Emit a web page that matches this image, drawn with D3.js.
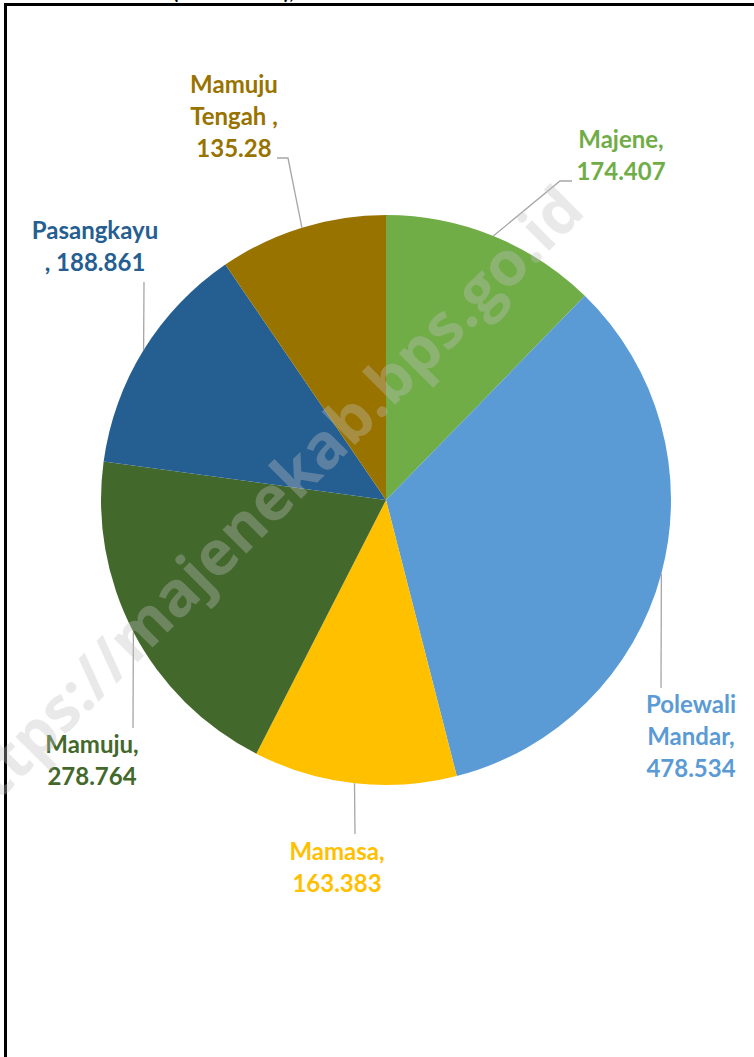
<!DOCTYPE html>
<html>
<head>
<meta charset="utf-8">
<script src="https://cdn.jsdelivr.net/npm/d3@7"></script>
<style>
  html, body { margin: 0; padding: 0; background: #fff; }
  svg { display: block; }
  text { font-family: Lato, "Open Sans", sans-serif; font-weight: bold; }
</style>
</head>
<body>
<svg id="chart" width="754" height="1057"></svg>
<script>
const categories = ["Majene", "Polewali Mandar", "Mamasa", "Mamuju", "Pasangkayu", "Mamuju Tengah"];
const values = [174.407, 478.534, 163.383, 278.764, 188.861, 135.28];
const colors = ["#70AD47", "#5B9BD5", "#FFC000", "#43682B", "#255E91", "#997300"];
// label text lines (as in the picture)
const labelLines = [
  ["Majene,", "174.407"],
  ["Polewali", "Mandar,", "478.534"],
  ["Mamasa,", "163.383"],
  ["Mamuju,", "278.764"],
  ["Pasangkayu", ", 188.861"],
  ["Mamuju", "Tengah ,", "135.28"]
];

const svg = d3.select("#chart");
const cx = 386, cy = 500, R = 285;

// frame
svg.append("rect").attr("x", 5.5).attr("y", 4.5).attr("width", 800).attr("height", 1100)
  .attr("fill", "#fff").attr("stroke", "#000").attr("stroke-width", 3);

// cut-off title
svg.append("text").attr("x", 259).attr("y", -1).attr("text-anchor", "middle")
  .attr("font-size", 20).attr("fill", "#000").text("(Ribuan Jiwa), 2020");

const data = categories.map((c, i) => ({ name: c, value: values[i], color: colors[i], lines: labelLines[i] }));

const pie = d3.pie().sort(null).value(d => d.value);
const arcs = pie(data);
const arcGen = d3.arc().innerRadius(0).outerRadius(R);

const g = svg.append("g").attr("transform", `translate(${cx},${cy})`);
g.selectAll("path.slice").data(arcs).enter().append("path")
  .attr("class", "slice")
  .attr("d", arcGen)
  .attr("fill", d => d.data.color);

const layout = [
  { pts: [[560, 181], [572, 181]], tx: 621, ty: 148 },
  { pts: [[661, 688]], tx: 691, ty: 713 },
  { pts: [[355, 834]], tx: 337, ty: 860 },
  { pts: [[133, 728]], tx: 92, ty: 753 },
  { pts: [[144, 282]], tx: 95, ty: 239 },
  { pts: [[288, 158], [277, 158]], tx: 234, ty: 93 }
];

arcs.forEach((a, i) => {
  const mid = (a.startAngle + a.endAngle) / 2;
  const ex = cx + R * Math.sin(mid), ey = cy - R * Math.cos(mid);
  const pts = [[ex, ey]].concat(layout[i].pts);
  svg.append("path")
    .attr("d", d3.line()(pts))
    .attr("fill", "none").attr("stroke", "#a6a6a6").attr("stroke-width", 1.3);
  const t = svg.append("text")
    .attr("text-anchor", "middle")
    .attr("font-size", 24)
    .attr("fill", a.data.color);
  a.data.lines.forEach((ln, j) => {
    t.append("tspan").attr("x", layout[i].tx).attr("y", layout[i].ty + j * 32).text(ln);
  });
});

// watermark
svg.append("text")
  .attr("transform", "translate(278,522) rotate(-45)")
  .attr("text-anchor", "middle")
  .attr("font-size", 62)
  .attr("fill", "#bfbfbf")
  .attr("fill-opacity", 0.35)
  .style("font-family", "'Open Sans', sans-serif")
  .text("https://majenekab.bps.go.id");
</script>
</body>
</html>
